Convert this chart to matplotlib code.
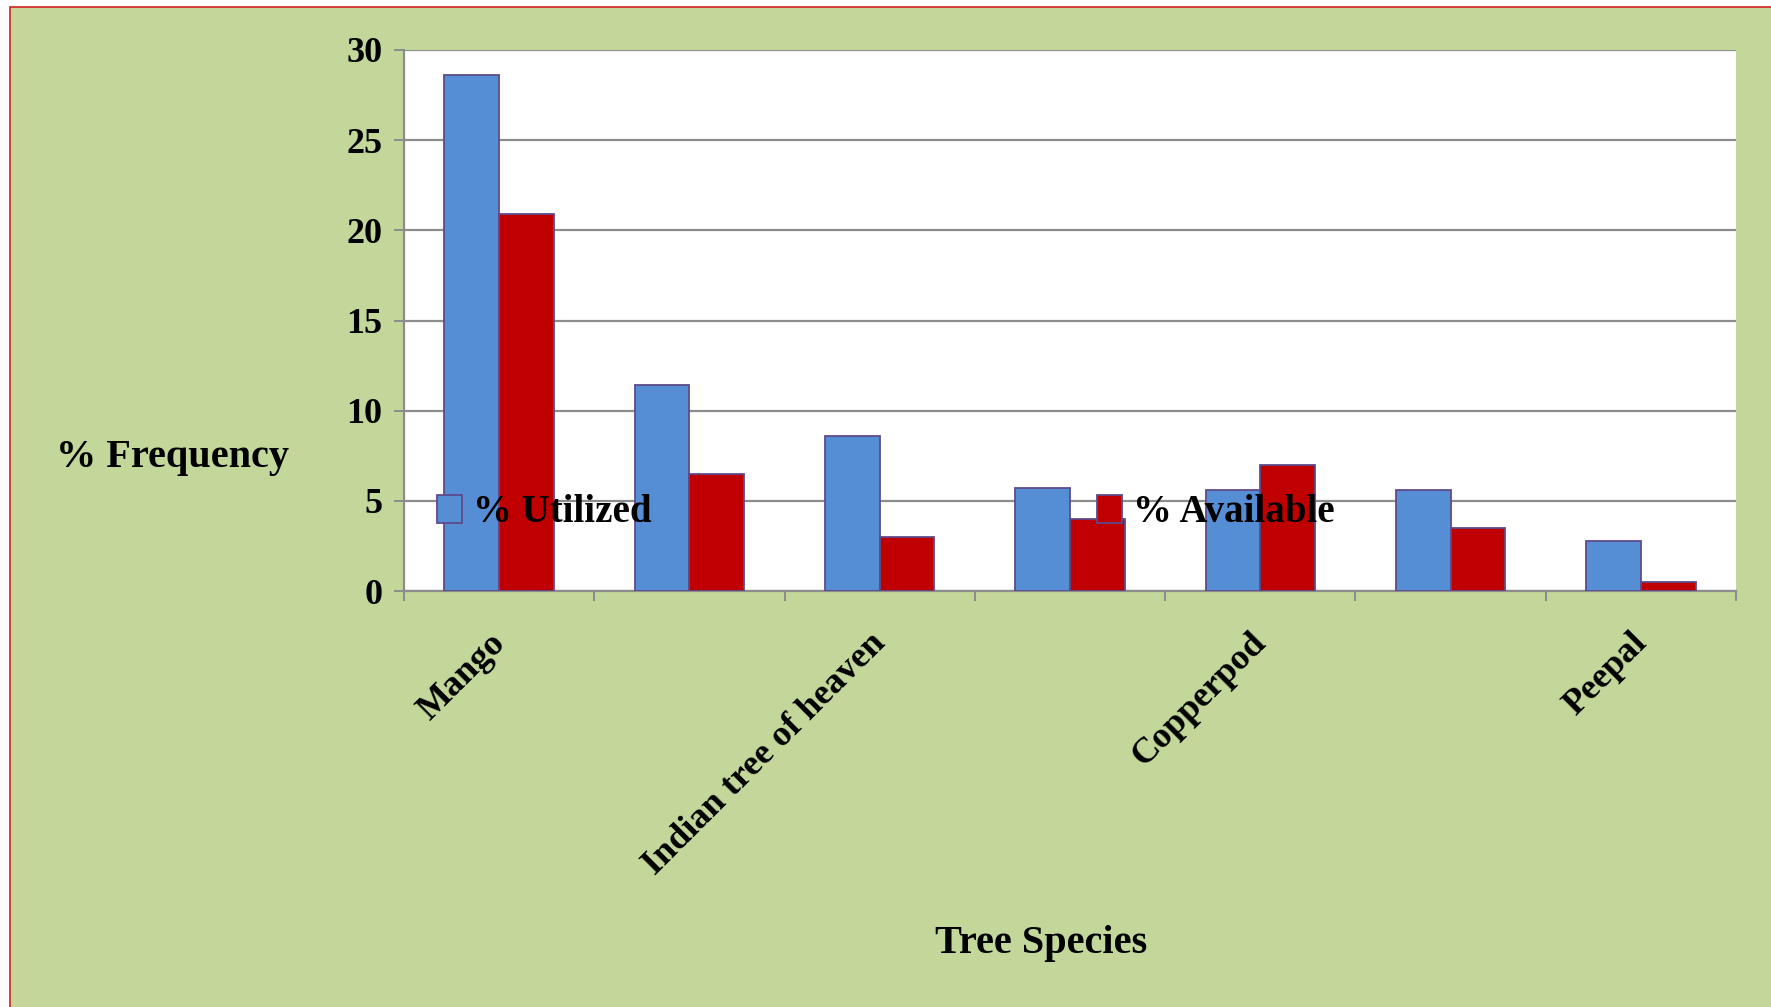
import matplotlib
matplotlib.use('Agg')
import matplotlib.pyplot as plt
import matplotlib.transforms as mtransforms
from matplotlib.patches import Rectangle
import numpy as np

# tree species (Excel only printed every second label)
species = ['Mango', '', 'Indian tree of heaven', '', 'Copperpod', '', 'Peepal']
utilized = [28.6, 11.4, 8.6, 5.7, 5.6, 5.6, 2.8]
available = [20.9, 6.5, 3.0, 4.0, 7.0, 3.5, 0.5]
yticks = [0, 5, 10, 15, 20, 25, 30]

GREEN = '#C4D79B'
BLUE = '#558ED5'
RED = '#C00000'
EDGE = '#5E4B8A'
GRID = '#8C8C8C'

plt.rcParams['font.family'] = 'Liberation Serif'
plt.rcParams['font.weight'] = 'bold'

W, H = 1771, 1007
fig = plt.figure(figsize=(W / 100, H / 100), dpi=100)
fig.patch.set_facecolor('white')

# green chart area with thin red frame on top/left
fig.patches.append(Rectangle((10 / W, -0.01), 1.0, 1 - 7 / H + 0.01,
                             transform=fig.transFigure, facecolor=GREEN,
                             edgecolor='#D42020', linewidth=1.2, zorder=-10))

left, right, top, bottom = 404, 1736, 50, 591
ax = fig.add_axes([left / W, 1 - bottom / H, (right - left) / W, (bottom - top) / H])
ax.set_zorder(1)
ax.set_facecolor('white')

x = np.arange(len(species))
bw = 0.2875
ax.bar(x - bw / 2, utilized, bw, color=BLUE, edgecolor=EDGE, linewidth=1.3,
       label='% Utilized', zorder=3)
ax.bar(x + bw / 2, available, bw, color=RED, edgecolor=EDGE, linewidth=1.3,
       label='% Available', zorder=3)

ax.set_xlim(-0.5, len(species) - 0.5)
ax.set_ylim(0, 30)
ax.set_yticks(yticks)
ax.yaxis.grid(True, color=GRID, linewidth=1.6, zorder=0)
ax.set_axisbelow(True)

for s in ['top', 'right']:
    ax.spines[s].set_visible(False)
for s in ['left', 'bottom']:
    ax.spines[s].set_color(GRID)
    ax.spines[s].set_linewidth(1.6)

ax.tick_params(axis='y', length=7.5, width=1.4, color=GRID, pad=8, labelsize=26)
for lab in ax.get_yticklabels():
    lab.set_fontweight('bold')

ax.set_xticks(x)
ax.set_xticklabels(species, rotation=45, ha='right', va='center',
                   rotation_mode='anchor', fontsize=26, fontweight='bold')
ax.set_xticks(np.arange(len(species) + 1) - 0.5, minor=True)
ax.tick_params(axis='x', which='major', length=0, pad=34)
ax.tick_params(axis='x', which='minor', length=7.5, width=1.4, color=GRID)
offset = mtransforms.ScaledTranslation(1 / 100, 0, fig.dpi_scale_trans)
for lab in ax.get_xticklabels():
    lab.set_transform(lab.get_transform() + offset)

fig.text(172 / W, 1 - 457 / H, '% Frequency', ha='center', va='center',
         fontsize=29, fontweight='bold')
fig.text(1041 / W, 1 - 943 / H, 'Tree Species', ha='center', va='center',
         fontsize=29, fontweight='bold')

leg = fig.legend(loc='center left', bbox_to_anchor=(437 / W, 1 - 513 / H), ncol=2,
                 frameon=False, borderpad=0, borderaxespad=0,
                 handlelength=0.65, handleheight=0.7, handletextpad=0.28,
                 columnspacing=11.45, prop={'weight': 'bold', 'size': 28})
leg.set_zorder(5)

fig.savefig('out.png', dpi=100, facecolor=fig.get_facecolor())
